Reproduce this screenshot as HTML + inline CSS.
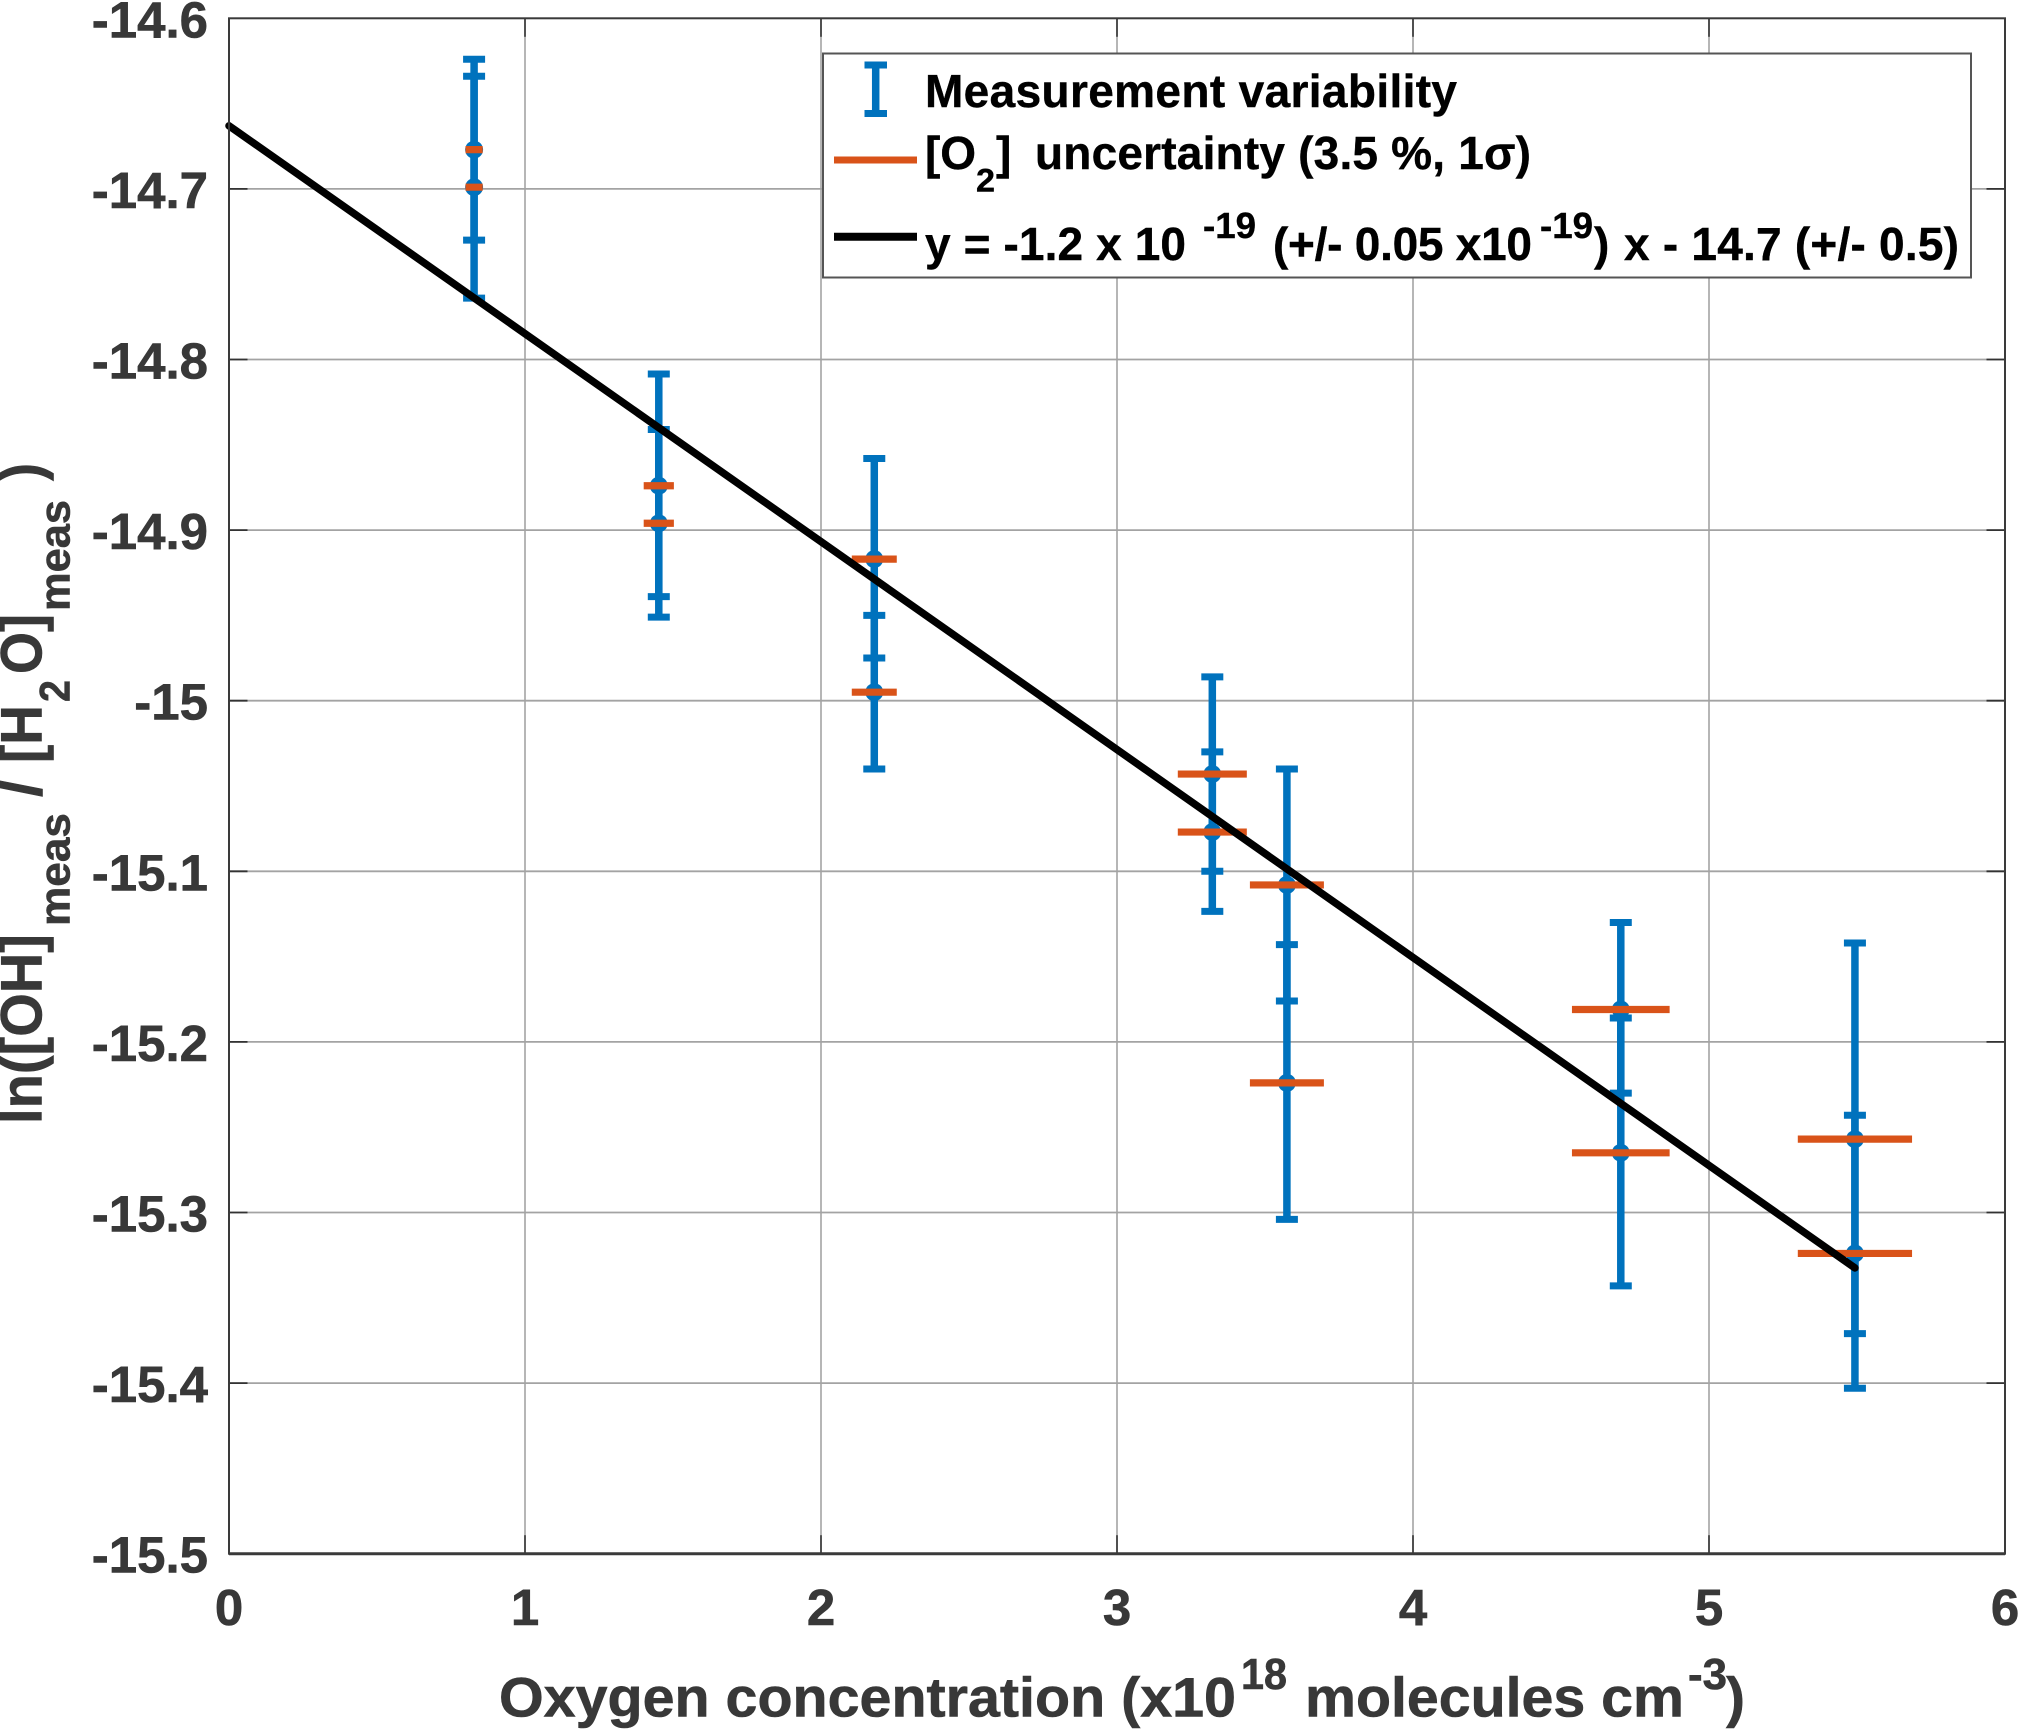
<!DOCTYPE html>
<html lang="en">
<head>
<meta charset="utf-8">
<title>Oxygen concentration chart</title>
<style>
  html, body { margin: 0; padding: 0; background: #fff; width: 2018px; height: 1729px; overflow: hidden; }
  svg { display: block; position: absolute; left: 0; top: 0; }
  text { font-family: "Liberation Sans", Arial, sans-serif; font-weight: 700; }
  .ax { fill: #383838; stroke: #383838; stroke-width: 0.6px; }
  .lg { fill: #000; stroke: #000; stroke-width: 0.4px; }
</style>
</head>
<body>
<svg id="chart" xmlns="http://www.w3.org/2000/svg" width="2018" height="1729" viewBox="0 0 2018 1729">
  <rect x="0" y="0" width="2018" height="1729" fill="#fff"/>
  <rect x="229" y="18.3" width="1776" height="1535.4" fill="#fff"/>
  <g id="grid"></g>
  <g id="marks"></g>
  <g id="frame"></g>
  <g id="ticklabels"></g>

  <g class="ax">
    <text x="499" y="1716.7" font-size="56" textLength="737" lengthAdjust="spacingAndGlyphs">Oxygen concentration (x10</text>
    <text x="1241" y="1689" font-size="44" textLength="46" lengthAdjust="spacingAndGlyphs">18</text>
    <text x="1305" y="1716.7" font-size="56" textLength="379" lengthAdjust="spacingAndGlyphs">molecules cm</text>
    <text x="1688" y="1689" font-size="44" textLength="39" lengthAdjust="spacingAndGlyphs">-3</text>
    <text x="1726" y="1716.7" font-size="56" textLength="19" lengthAdjust="spacingAndGlyphs">)</text>
  </g>

  <g class="ax">
    <text transform="translate(41.7,1124) rotate(-90)" font-size="58" textLength="190" lengthAdjust="spacingAndGlyphs">ln([OH]</text>
    <text transform="translate(69.3,926) rotate(-90)" font-size="43" textLength="113" lengthAdjust="spacingAndGlyphs">meas</text>
    <text transform="translate(41.7,797) rotate(-90)" font-size="58" textLength="17" lengthAdjust="spacingAndGlyphs">/</text>
    <text transform="translate(41.7,763) rotate(-90)" font-size="58" textLength="58" lengthAdjust="spacingAndGlyphs">[H</text>
    <text transform="translate(69.3,702) rotate(-90)" font-size="43" textLength="22" lengthAdjust="spacingAndGlyphs">2</text>
    <text transform="translate(41.7,674) rotate(-90)" font-size="58" textLength="60" lengthAdjust="spacingAndGlyphs">O]</text>
    <text transform="translate(69.3,611) rotate(-90)" font-size="43" textLength="111" lengthAdjust="spacingAndGlyphs">meas</text>
    <text transform="translate(41.7,481) rotate(-90)" font-size="58" textLength="18" lengthAdjust="spacingAndGlyphs">)</text>
  </g>

  <g>
    <rect x="823" y="53.5" width="1148" height="224" fill="#fff" stroke="#555" stroke-width="2"/>

    <g>
      <g stroke="#0072BD" fill="none">
        <line x1="875.7" y1="62" x2="875.7" y2="116.7" stroke-width="7.5"/>
        <line x1="864.5" y1="65" x2="887" y2="65" stroke-width="7"/>
        <line x1="864.5" y1="113.5" x2="887" y2="113.5" stroke-width="7"/>
      </g>
      <text class="lg" x="925" y="107" font-size="46" textLength="532" lengthAdjust="spacing">Measurement variability</text>
    </g>

    <g>
      <line x1="834" y1="160" x2="917" y2="160" stroke="#D95319" stroke-width="7"/>
      <text class="lg" x="925" y="169" font-size="46" textLength="51" lengthAdjust="spacing">[O</text>
      <text class="lg" x="976" y="191.7" font-size="32" textLength="19" lengthAdjust="spacingAndGlyphs">2</text>
      <text class="lg" x="996" y="169" font-size="46" textLength="17" lengthAdjust="spacing">]</text>
      <text class="lg" x="1035" y="169" font-size="46" textLength="496" lengthAdjust="spacing">uncertainty (3.5 %, 1σ)</text>
    </g>

    <g>
      <line x1="834" y1="236.7" x2="917" y2="236.7" stroke="#000" stroke-width="8"/>
      <text class="lg" x="925" y="260" font-size="46" textLength="261" lengthAdjust="spacing">y = -1.2 x 10</text>
      <text class="lg" x="1203" y="238" font-size="36" textLength="53" lengthAdjust="spacingAndGlyphs">-19</text>
      <text class="lg" x="1273" y="260" font-size="46" textLength="259" lengthAdjust="spacing">(+/- 0.05 x10</text>
      <text class="lg" x="1540" y="238" font-size="36" textLength="53" lengthAdjust="spacingAndGlyphs">-19</text>
      <text class="lg" x="1594" y="260" font-size="46" textLength="16" lengthAdjust="spacing">)</text>
      <text class="lg" x="1624" y="260" font-size="46" textLength="335" lengthAdjust="spacing">x - 14.7 (+/- 0.5)</text>
    </g>
  </g>
</svg>

<script>
// ---- chart data ----
const xTickValues = [0, 1, 2, 3, 4, 5, 6];
const xTickLabels = ["0", "1", "2", "3", "4", "5", "6"];
const yTickValues = [-14.6, -14.7, -14.8, -14.9, -15, -15.1, -15.2, -15.3, -15.4, -15.5];
const yTickLabels = ["-14.6", "-14.7", "-14.8", "-14.9", "-15", "-15.1", "-15.2", "-15.3", "-15.4", "-15.5"];

const oxygenValues = [0.828, 0.828, 1.452, 1.452, 2.18, 2.18, 3.322, 3.322, 3.574, 3.574, 4.702, 4.702, 5.493, 5.493];
const lnRatioValues = [-14.677, -14.699, -14.874, -14.896, -14.917, -14.995, -15.043, -15.077, -15.108, -15.224, -15.181, -15.265, -15.257, -15.324];
const upperBounds = [-14.624, -14.634, -14.8085, -14.841, -14.858, -14.95, -14.986, -15.03, -15.04, -15.143, -15.13, -15.186, -15.142, -15.243];
const lowerBounds = [-14.73, -14.764, -14.939, -14.951, -14.975, -15.04, -15.1, -15.1235, -15.176, -15.304, -15.23, -15.343, -15.371, -15.403];
const oxygenUncertainty = [0.029, 0.029, 0.051, 0.051, 0.076, 0.076, 0.1166, 0.1166, 0.125, 0.125, 0.165, 0.165, 0.193, 0.193];

const fitX = [0, 5.493];
const fitY = [-14.663, -15.3325];

// ---- axis functions ----
const plotLeft = 229, plotRight = 2005, plotTop = 18.3, plotBottom = 1553.7;
const xMin = 0, xMax = 6, yMax = -14.6, yMin = -15.5;
function xScale(v) { return plotLeft + (v - xMin) / (xMax - xMin) * (plotRight - plotLeft); }
function yScale(v) { return plotTop + (yMax - v) / (yMax - yMin) * (plotBottom - plotTop); }

const NS = "http://www.w3.org/2000/svg";
function lineEl(x1, y1, x2, y2, stroke, width) {
  const el = document.createElementNS(NS, "line");
  el.setAttribute("x1", x1);
  el.setAttribute("y1", y1);
  el.setAttribute("x2", x2);
  el.setAttribute("y2", y2);
  el.setAttribute("stroke", stroke);
  el.setAttribute("stroke-width", width);
  return el;
}

const gridG = document.getElementById("grid");
const marksG = document.getElementById("marks");
const frameG = document.getElementById("frame");
const labelsG = document.getElementById("ticklabels");

// grid and ticks
xTickValues.forEach(function (v, i) {
  const px = xScale(v);
  if (v > xMin && v < xMax) {
    const g = lineEl(px, plotTop, px, plotBottom, "#a3a3a3", 1.6);
    
    
    gridG.appendChild(g);
    const t1 = lineEl(px, plotBottom, px, plotBottom - 18.5, "#333", 1.6);
    
    
    frameG.appendChild(t1);
    const t2 = lineEl(px, plotTop, px, plotTop + 18.5, "#333", 1.6);
    
    
    frameG.appendChild(t2);
  }
  const lab = document.createElementNS(NS, "text");
  lab.setAttribute("x", px);
  lab.setAttribute("y", 1625);
  lab.setAttribute("font-size", 51);
  lab.setAttribute("text-anchor", "middle");
  lab.setAttribute("class", "ax");
  lab.textContent = xTickLabels[i];
  
  
  labelsG.appendChild(lab);
});

yTickValues.forEach(function (v, i) {
  const py = yScale(v);
  if (v < yMax && v > yMin) {
    const g = lineEl(plotLeft, py, plotRight, py, "#a3a3a3", 1.8);
    
    
    gridG.appendChild(g);
    const t1 = lineEl(plotLeft, py, plotLeft + 18.5, py, "#333", 1.8);
    
    
    frameG.appendChild(t1);
    const t2 = lineEl(plotRight, py, plotRight - 18.5, py, "#333", 1.8);
    
    
    frameG.appendChild(t2);
  }
  const lab = document.createElementNS(NS, "text");
  lab.setAttribute("x", 208);
  lab.setAttribute("y", py + 19);
  lab.setAttribute("font-size", 51);
  lab.setAttribute("text-anchor", "end");
  lab.setAttribute("class", "ax");
  lab.textContent = yTickLabels[i];
  
  
  labelsG.appendChild(lab);
});

// frame
const frameRect = document.createElementNS(NS, "rect");
frameRect.setAttribute("x", plotLeft);
frameRect.setAttribute("y", plotTop);
frameRect.setAttribute("width", plotRight - plotLeft);
frameRect.setAttribute("height", plotBottom - plotTop);
frameRect.setAttribute("fill", "none");
frameRect.setAttribute("stroke", "#3a3a3a");
frameRect.setAttribute("stroke-width", 2);


frameG.appendChild(frameRect);

const bottomAxis = lineEl(plotLeft, plotBottom, plotRight, plotBottom, "#3a3a3a", 3);


frameG.appendChild(bottomAxis);

// error bars (blue)
oxygenValues.forEach(function (v, i) {
  const px = xScale(v);
  const top = yScale(upperBounds[i]);
  const bot = yScale(lowerBounds[i]);
  const stem = lineEl(px, top, px, bot, "#0072BD", 7.5);
  
  
  marksG.appendChild(stem);
  const capTop = lineEl(px - 11, top, px + 11, top, "#0072BD", 7);
  
  
  marksG.appendChild(capTop);
  const capBot = lineEl(px - 11, bot, px + 11, bot, "#0072BD", 7);
  
  
  marksG.appendChild(capBot);
  const dot = document.createElementNS(NS, "circle");
  dot.setAttribute("cx", px);
  dot.setAttribute("cy", yScale(lnRatioValues[i]));
  dot.setAttribute("r", 9);
  dot.setAttribute("fill", "#0072BD");
  
  
  marksG.appendChild(dot);
});

// oxygen uncertainty (orange)
oxygenValues.forEach(function (v, i) {
  const py = yScale(lnRatioValues[i]);
  const bar = lineEl(xScale(v - oxygenUncertainty[i]), py, xScale(v + oxygenUncertainty[i]), py, "#D95319", 7.2);
  
  
  marksG.appendChild(bar);
});

// fit line (black)
const fit = lineEl(xScale(fitX[0]), yScale(fitY[0]), xScale(fitX[1]), yScale(fitY[1]), "#000", 7.5);
fit.setAttribute("stroke-linecap", "round");


marksG.appendChild(fit);
</script>
</body>
</html>
